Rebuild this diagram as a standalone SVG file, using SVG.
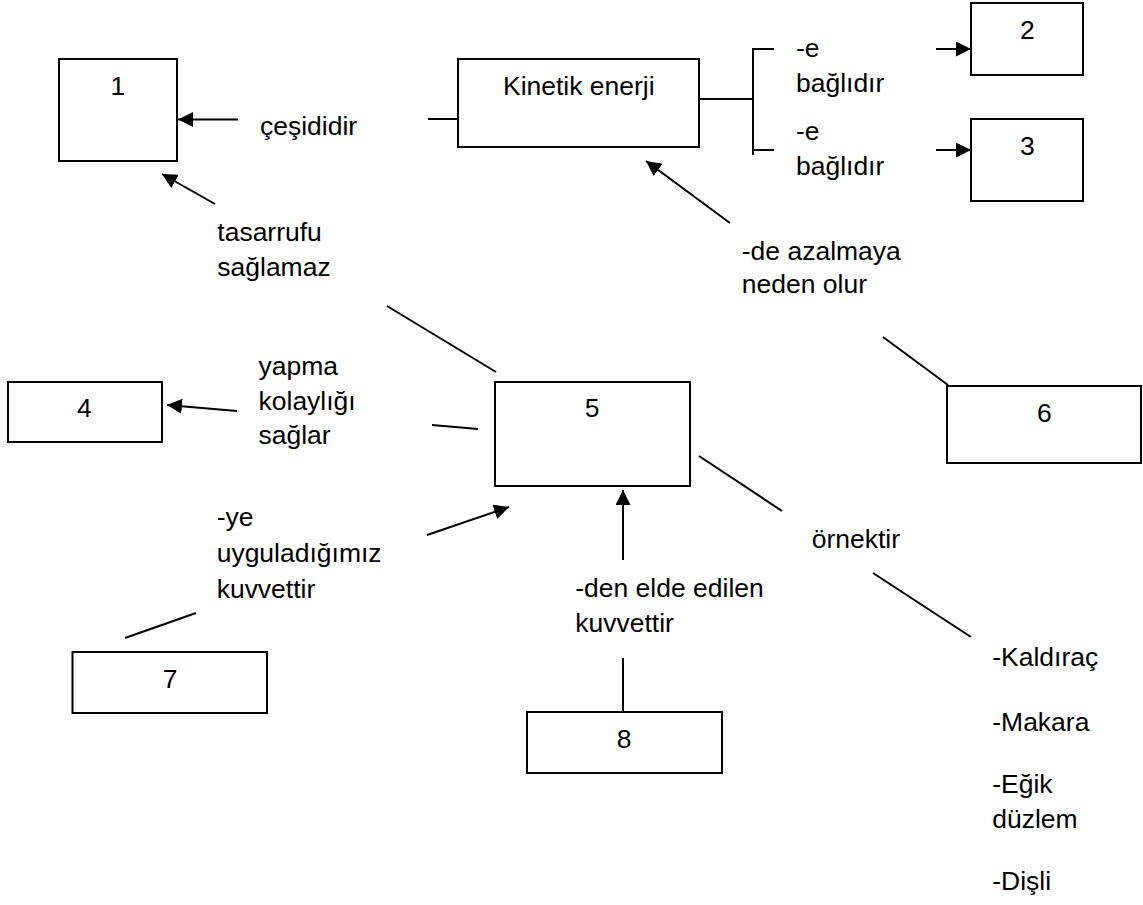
<svg xmlns="http://www.w3.org/2000/svg" width="1143" height="905" viewBox="0 0 1143 905">
  <style>
    .box { fill: #fff; stroke: #000; stroke-width: 2; }
    .ln { stroke: #000; stroke-width: 2; fill: none; }
    .arr { marker-end: url(#head); }
    text { font-family: "Liberation Sans", Arial, sans-serif; font-size: 25px; fill: #000; }
    .c { text-anchor: middle; }
  </style>
  <defs>
    <marker id="head" markerUnits="userSpaceOnUse" markerWidth="16" markerHeight="16" refX="15" refY="7.5" orient="auto">
      <path d="M0,0 L15,7.5 L0,15 Z" fill="#000"/>
    </marker>
  </defs>

  <rect width="1143" height="905" fill="#fff"/>

  <!-- connectors -->
  <g id="connectors">
    <line class="ln arr" x1="238" y1="119.5" x2="178" y2="119.5"/>
    <line class="ln" x1="428" y1="119" x2="458" y2="119"/>
    <line class="ln arr" x1="215" y1="204" x2="162" y2="174"/>
    <line class="ln" x1="387" y1="306" x2="496" y2="372"/>
    <line class="ln" x1="699" y1="99" x2="753" y2="99"/>
    <line class="ln" x1="753" y1="49" x2="753" y2="155"/>
    <line class="ln" x1="752" y1="49" x2="774" y2="49"/>
    <line class="ln" x1="752" y1="150" x2="774" y2="150"/>
    <line class="ln arr" x1="936" y1="49" x2="971" y2="49"/>
    <line class="ln arr" x1="936" y1="150" x2="971" y2="150"/>
    <line class="ln arr" x1="730" y1="223" x2="646" y2="161"/>
    <line class="ln" x1="883" y1="337" x2="948" y2="385"/>
    <line class="ln arr" x1="237" y1="411" x2="167" y2="405"/>
    <line class="ln" x1="432" y1="425" x2="478" y2="429"/>
    <line class="ln arr" x1="427" y1="535" x2="509" y2="507"/>
    <line class="ln" x1="125" y1="638" x2="196" y2="613"/>
    <line class="ln arr" x1="623" y1="560" x2="623" y2="490"/>
    <line class="ln" x1="623" y1="658" x2="623" y2="712"/>
    <line class="ln" x1="699" y1="456" x2="782" y2="511"/>
    <line class="ln" x1="873" y1="573" x2="971" y2="637"/>
  </g>

  <!-- nodes -->
  <g id="n1"><rect class="box" x="59" y="59" width="118" height="102"/></g>
  <g id="kinetik"><rect class="box" x="458" y="59" width="241" height="88"/></g>
  <g id="n2"><rect class="box" x="971" y="3" width="112" height="72"/></g>
  <g id="n3"><rect class="box" x="971" y="119" width="112" height="82"/></g>
  <g id="n4"><rect class="box" x="8" y="382" width="154" height="60"/></g>
  <g id="n5"><rect class="box" x="495" y="382" width="195" height="104"/></g>
  <g id="n6"><rect class="box" x="947" y="386" width="194" height="77"/></g>
  <g id="n7"><rect class="box" x="72.5" y="652" width="194.5" height="61"/></g>
  <g id="n8"><rect class="box" x="527" y="712" width="195" height="61"/></g>

  <!-- labels (slightly widened glyphs) -->
  <g id="labels" transform="scale(1.06,1)">
    <text class="c" x="111.3" y="95">1</text>
    <text x="474.5" y="95">Kinetik enerji</text>
    <text class="c" x="969.2" y="39">2</text>
    <text class="c" x="969.2" y="155">3</text>
    <text class="c" x="79.7" y="417">4</text>
    <text class="c" x="558.5" y="417">5</text>
    <text class="c" x="985.2" y="422">6</text>
    <text class="c" x="160.4" y="688">7</text>
    <text class="c" x="588.7" y="748">8</text>

    <text x="245.3" y="135">çeşididir</text>
    <text x="205" y="241">tasarrufu</text>
    <text x="205" y="276">sağlamaz</text>

    <text x="750.9" y="57">-e</text>
    <text x="750.9" y="92">bağlıdır</text>
    <text x="750.9" y="140">-e</text>
    <text x="750.9" y="175">bağlıdır</text>

    <text x="699.8" y="260">-de azalmaya</text>
    <text x="699.8" y="293">neden olur</text>

    <text x="243.9" y="375">yapma</text>
    <text x="243.9" y="410">kolaylığı</text>
    <text x="243.9" y="444">sağlar</text>

    <text x="204.4" y="526">-ye</text>
    <text x="204.4" y="562">uyguladığımız</text>
    <text x="204.4" y="598">kuvvettir</text>

    <text x="542.7" y="597">-den elde edilen</text>
    <text x="542.7" y="632">kuvvettir</text>

    <text x="765.8" y="548">örnektir</text>

    <text x="936.1" y="666">-Kaldıraç</text>
    <text x="936.1" y="731">-Makara</text>
    <text x="936.1" y="793">-Eğik</text>
    <text x="936.1" y="828">düzlem</text>
    <text x="936.1" y="890">-Dişli</text>
  </g>
</svg>
